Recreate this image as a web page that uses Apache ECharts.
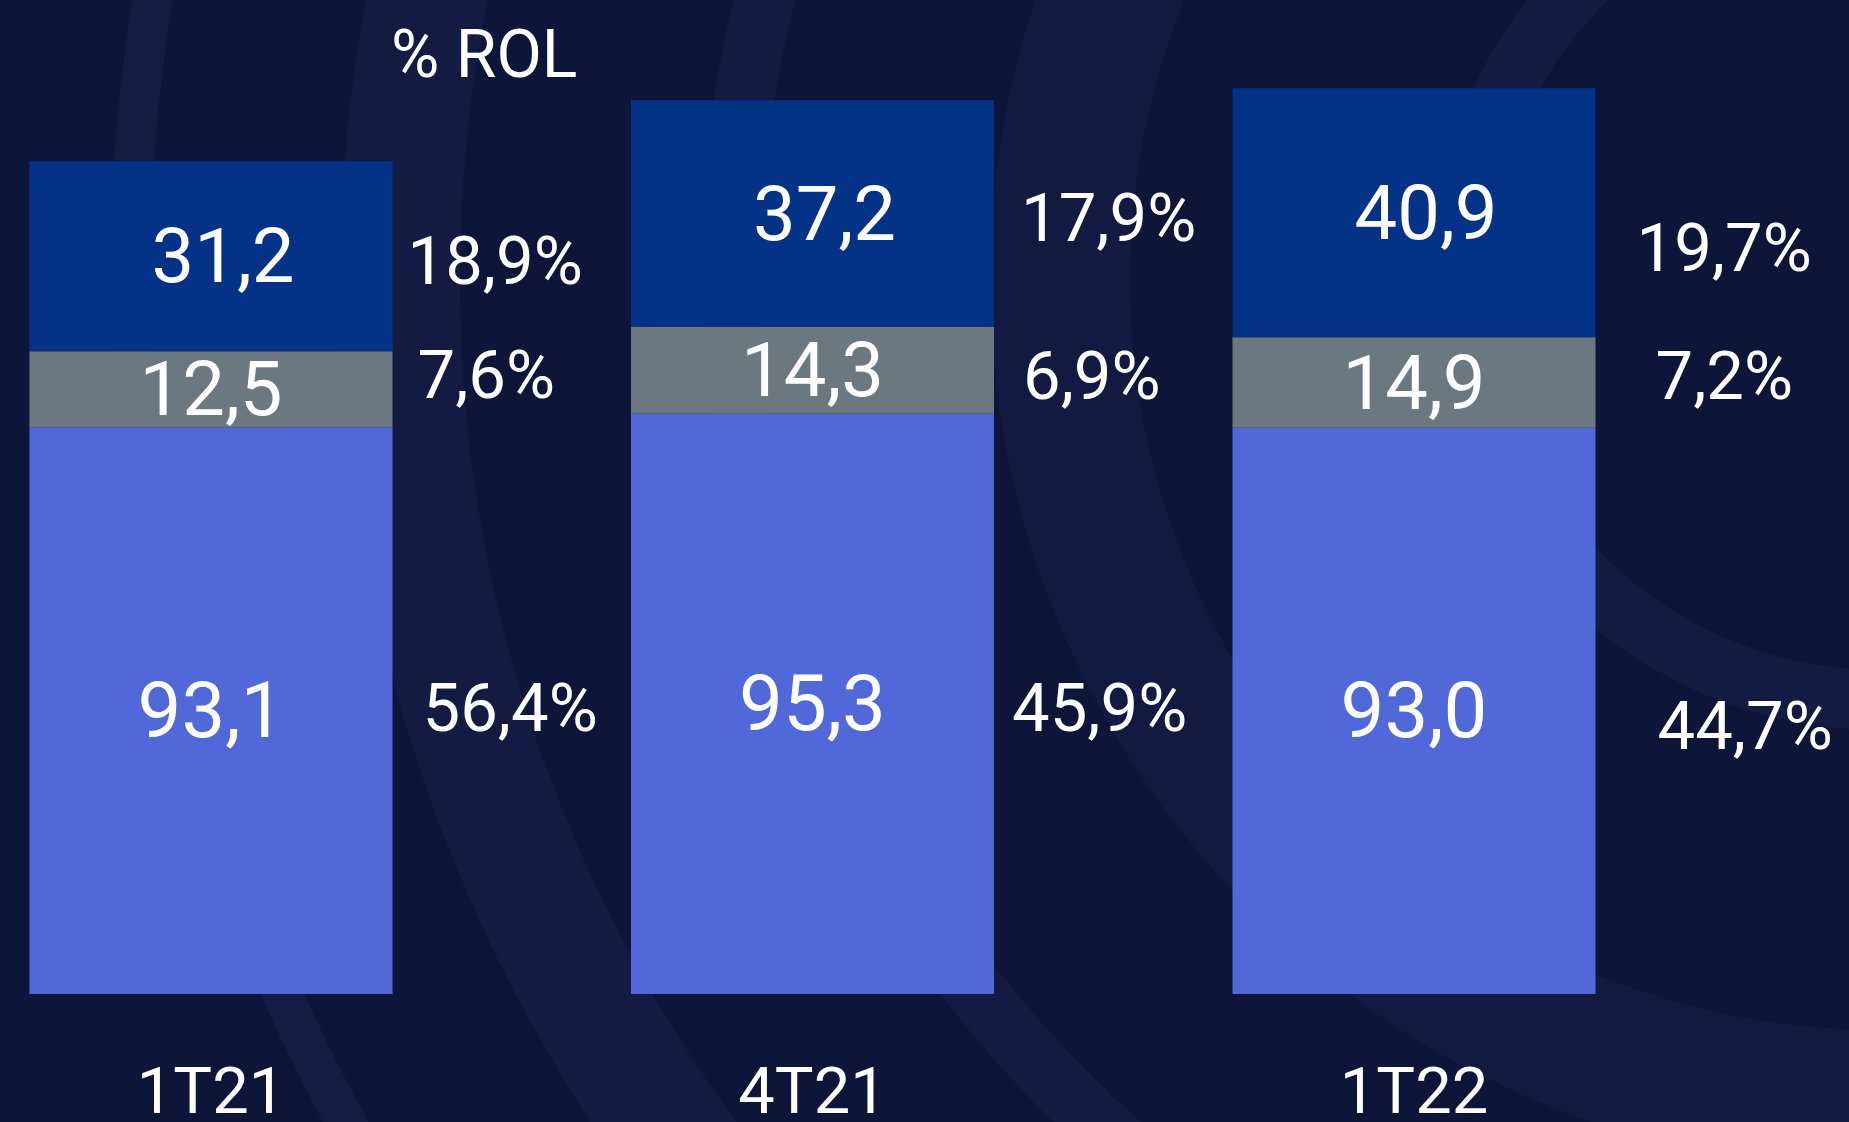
<!DOCTYPE html>
<html>
<head>
<meta charset="utf-8">
<script src="https://cdn.jsdelivr.net/npm/echarts@6/dist/echarts.min.js"></script>
<style>
  html, body { margin: 0; padding: 0; background: #0d1539; }
  #container { width: 1849px; height: 1122px; }
</style>
</head>
<body>
<div id="container"></div>
<script>
var categories = ['1T21', '4T21', '1T22'];
// valori stacked, dal basso verso l'alto
var baseVals = [93.1, 95.3, 93.0];
var midVals = [12.5, 14.3, 14.9];
var topVals = [31.2, 37.2, 40.9];
// % ROL
var basePct = [56.4, 45.9, 44.7];
var midPct = [7.6, 6.9, 7.2];
var topPct = [18.9, 17.9, 19.7];

// spostamenti delle etichette % (solo stile)
var baseNudge = [[30, 4], [18, 10], [62, 21]];
var midNudge = [[25, -8], [29, 12], [60, 0]];
var topNudge = [[15, 11], [27, 11], [41, 42]];

function fmt(v) {
    return v.toFixed(1).replace('.', ',');
}

var dom = document.getElementById('container');
var myChart = echarts.init(dom);

function valueSeries(name, vals, color, dx, size) {
    return {
        name: name,
        type: 'bar',
        stack: 'val',
        barWidth: 363,
        barGap: '-100%',
        itemStyle: {color: color},
        label: {
            show: true,
            position: 'inside',
            offset: [dx, 7],
            color: '#ffffff',
            fontFamily: 'Roboto',
            fontSize: size,
            formatter: function (p) { return fmt(p.value); }
        },
        data: vals
    };
}

function pctSeries(name, vals, pcts, nudge) {
    return {
        name: name,
        type: 'bar',
        stack: 'pct',
        barWidth: 363,
        barGap: '-100%',
        silent: true,
        itemStyle: {color: 'rgba(0,0,0,0)'},
        label: {
            show: true,
            position: 'right',
            distance: 0,
            color: '#ffffff',
            fontFamily: 'Roboto',
            fontSize: 67,
            formatter: function (p) { return fmt(pcts[p.dataIndex]) + '%'; }
        },
        data: vals.map(function (v, i) {
            return {value: v, label: {offset: nudge[i]}};
        })
    };
}

var bgRings = [
    {r: 1750, w: 40, c: 'rgba(50,60,115,0.20)'},
    {r: 1480, w: 120, c: 'rgba(40,50,100,0.22)'},
    {r: 1150, w: 60, c: 'rgba(45,55,110,0.20)'},
    {r: 820, w: 140, c: 'rgba(35,45,95,0.22)'},
    {r: 420, w: 60, c: 'rgba(45,55,110,0.18)'}
];

option = {
    backgroundColor: '#0d1539',
    animation: false,
    graphic: bgRings.map(function (g) {
        return {
            type: 'circle',
            silent: true,
            shape: {cx: 1880, cy: 280, r: g.r},
            style: {fill: 'none', stroke: g.c, lineWidth: g.w}
        };
    }),
    title: {
        text: '% ROL',
        left: 386,
        top: 22,
        textStyle: {
            color: '#ffffff',
            fontFamily: 'Roboto',
            fontWeight: 'normal',
            fontSize: 66,
            lineHeight: 66
        }
    },
    grid: {
        left: 211,
        right: 435,
        top: 20,
        bottom: 128,
        containLabel: false,
        outerBoundsMode: 'none'
    },
    xAxis: {
        type: 'category',
        data: categories,
        boundaryGap: false,
        axisLine: {show: false},
        axisTick: {show: false},
        axisLabel: {
            color: '#ffffff',
            fontFamily: 'Roboto',
            fontSize: 65,
            margin: 70
        }
    },
    yAxis: {
        type: 'value',
        min: 0,
        max: 160,
        show: false,
        splitLine: {show: false}
    },
    series: [
        valueSeries('base', baseVals, '#5068d8', 0, 78),
        valueSeries('mid', midVals, '#6c7880', 0, 76),
        valueSeries('top', topVals, '#033287', 12, 76),
        pctSeries('basePct', baseVals, basePct, baseNudge),
        pctSeries('midPct', midVals, midPct, midNudge),
        pctSeries('topPct', topVals, topPct, topNudge)
    ]
};

if (option && typeof option === 'object') {
    myChart.setOption(option, true);
}
</script>
</body>
</html>
